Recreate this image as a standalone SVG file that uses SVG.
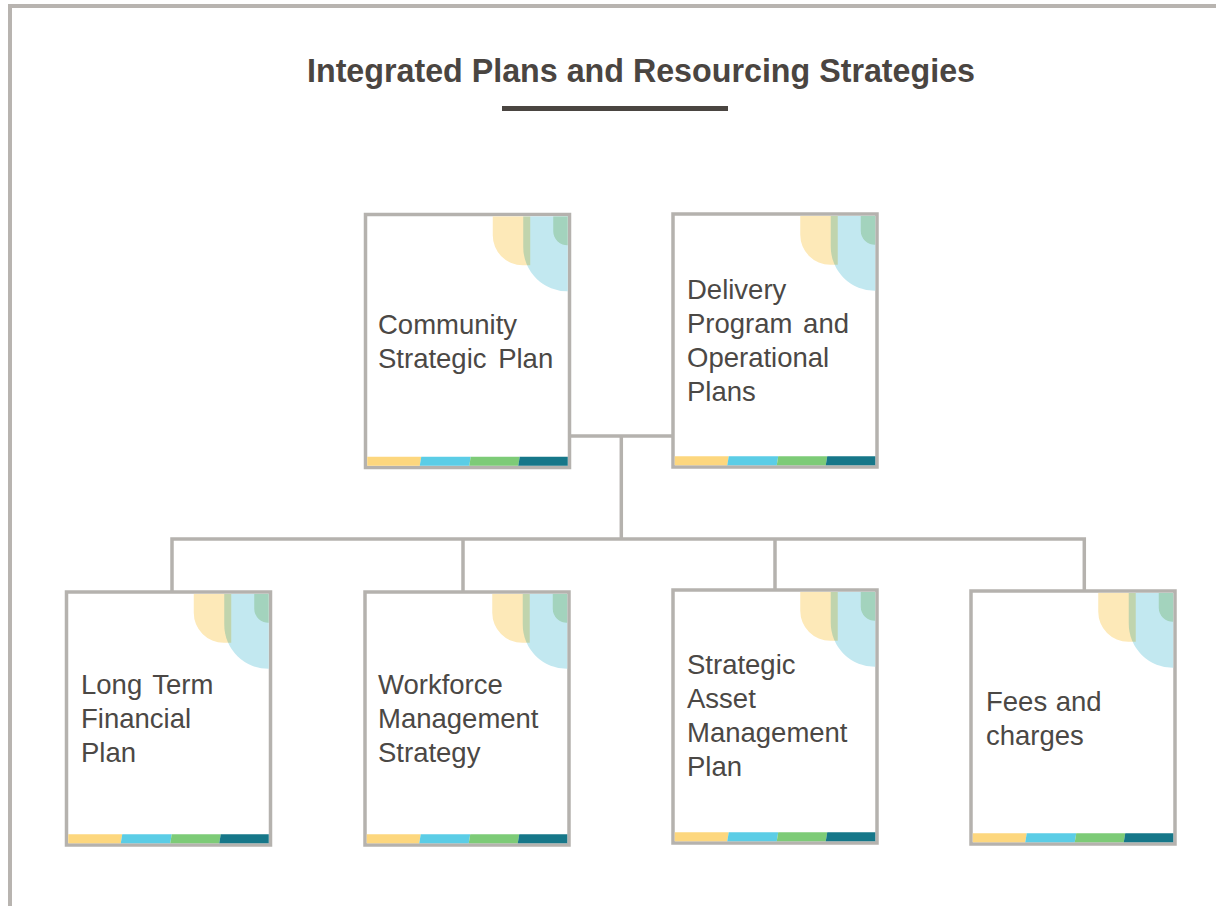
<svg xmlns="http://www.w3.org/2000/svg" width="1216" height="906" viewBox="0 0 1216 906">
<style>
.frame{fill:none;stroke:#b8b4b0;stroke-width:4}
.box{fill:#ffffff;stroke:#b5b2ae;stroke-width:3.5}
.conn{fill:none;stroke:#b5b2ae;stroke-width:3.5}
.lbl{font-family:"Liberation Sans",Arial,sans-serif;font-size:27.5px;fill:#4b4845}
.title{font-family:"Liberation Sans",Arial,sans-serif;font-weight:bold;font-size:33px;fill:#4a4541}
.y1{fill:#fde9b8}
.b1{fill:#b8e4ee;opacity:0.85;mix-blend-mode:multiply}
.g1{fill:#a3d3bd}
.cy{fill:#fdd77e}
.cb{fill:#5bcde6}
.cg{fill:#7dcb77}
.ct{fill:#167789}
</style>
<defs>
<clipPath id="clip"><rect x="0" y="0" width="200.5" height="250"/></clipPath>
<g id="card">
<rect class="box" x="0" y="0" width="204" height="253"/>
<g transform="translate(1.75,1.75)">
<g clip-path="url(#clip)">
<path class="y1" d="M125.5,0 H163 V49 H155.5 A30,30 0 0 1 125.5,19 Z"/>
<path class="b1" d="M156,0 H201 V75 A44,44 0 0 1 156,31 Z"/>
<path class="g1" d="M186,0 H201 V29 A14,14 0 0 1 186,15 Z"/>
</g>
<polygon class="cy" points="0,240.5 54,240.5 52.5,249.5 0,249.5"/>
<polygon class="cb" points="54,240.5 103.5,240.5 102,249.5 52.5,249.5"/>
<polygon class="cg" points="103.5,240.5 152.5,240.5 151,249.5 102,249.5"/>
<polygon class="ct" points="152.5,240.5 200.5,240.5 200.5,249.5 151,249.5"/>
</g>
</g>
</defs>
<rect width="1216" height="906" fill="#ffffff"/>
<path class="frame" d="M10,906 V6 H1216"/>
<g id="title">
<text class="title" x="307" y="82" textLength="668" lengthAdjust="spacingAndGlyphs">Integrated Plans and Resourcing Strategies</text>
<rect x="502" y="106" width="226" height="5" fill="#4a4541"/>
</g>
<g id="connectors">
<path class="conn" d="M569,436 H673"/>
<path class="conn" d="M621.3,436 V539"/>
<path class="conn" d="M172,592 V539 H1084.3 V591"/>
<path class="conn" d="M463,539 V592"/>
<path class="conn" d="M775,539 V590"/>
</g>
<g id="csp">
<use href="#card" x="365.5" y="214.5"/>
<text class="lbl" x="378" y="334">Community</text>
<text class="lbl" x="378" y="368" word-spacing="4">Strategic Plan</text>
</g>
<g id="dpop">
<use href="#card" x="673" y="214"/>
<text class="lbl" x="687" y="299">Delivery</text>
<text class="lbl" x="687" y="333" word-spacing="3">Program and</text>
<text class="lbl" x="687" y="367">Operational</text>
<text class="lbl" x="687" y="401">Plans</text>
</g>
<g id="ltfp">
<use href="#card" x="66.5" y="592"/>
<text class="lbl" x="81" y="694" word-spacing="3">Long Term</text>
<text class="lbl" x="81" y="728">Financial</text>
<text class="lbl" x="81" y="762">Plan</text>
</g>
<g id="wms">
<use href="#card" x="365" y="592"/>
<text class="lbl" x="378" y="694">Workforce</text>
<text class="lbl" x="378" y="728">Management</text>
<text class="lbl" x="378" y="762">Strategy</text>
</g>
<g id="samp">
<use href="#card" x="673" y="590"/>
<text class="lbl" x="687" y="674">Strategic</text>
<text class="lbl" x="687" y="708">Asset</text>
<text class="lbl" x="687" y="742">Management</text>
<text class="lbl" x="687" y="776">Plan</text>
</g>
<g id="fc">
<use href="#card" x="971" y="591"/>
<text class="lbl" x="986" y="711" word-spacing="1">Fees and</text>
<text class="lbl" x="986" y="745">charges</text>
</g>
</svg>
